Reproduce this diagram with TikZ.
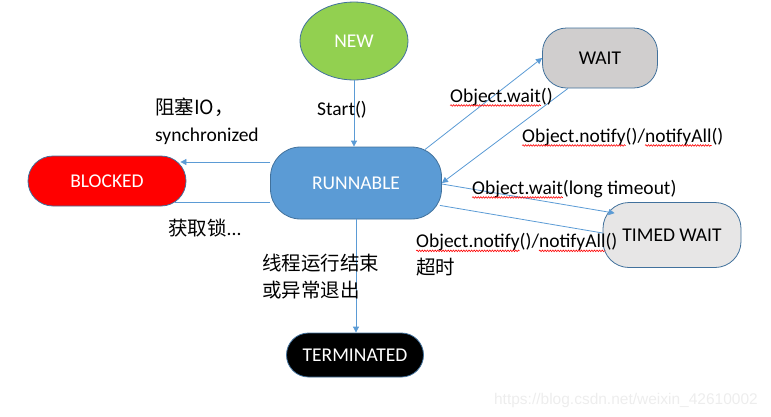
\documentclass[tikz,border=0pt]{standalone}
\usepackage{fontspec}
\setmainfont{Carlito}
\newfontfamily\cjk{Noto Sans CJK SC}
\newfontfamily\wmfont{Liberation Sans}
\usetikzlibrary{calc,arrows.meta,decorations.pathmorphing,shapes.geometric}
\definecolor{newgreen}{HTML}{92D050}
\definecolor{runblue}{HTML}{5B9BD5}
\definecolor{edgeblue}{HTML}{41719C}
\definecolor{waitgray}{HTML}{D0CECE}
\definecolor{twgray}{HTML}{E7E6E6}
\definecolor{arrowblue}{HTML}{5B9BD5}
\tikzset{
  state/.style={draw=edgeblue, line width=0.8pt, inner sep=0pt, font=\fontsize{19.5}{24}\selectfont},
  conn/.style={draw=arrowblue, line width=0.8pt},
  arr/.style={conn, -{Triangle[length=6pt,width=6pt]}},
  lbl/.style={inner sep=0pt, font=\fontsize{19.5}{27}\selectfont, align=left},
  spell/.style={draw=red, line width=0.6pt, decorate, decoration={snake, amplitude=0.8pt, segment length=2.6pt}}
}
\newsavebox\splbox
\newcommand\spl[1]{\sbox\splbox{#1}\usebox\splbox\tikz[overlay,baseline=0pt]\draw[spell](-\wd\splbox,-3pt)--(0pt,-3pt);}
\begin{document}
\begin{tikzpicture}[x=1pt,y=-1pt]
\useasboundingbox (0,0) rectangle (771,416);
% states
\node[state, ellipse, fill=newgreen, minimum width=108pt, minimum height=78pt, text=white] (new) at (354,41) {NEW};
\node[state, rectangle, rounded corners=30pt, fill=runblue, minimum width=171pt, minimum height=72pt, text=white] (run) at (356,183) {RUNNABLE};
\node[state, rectangle, rounded corners=25pt, fill=red, minimum width=158pt, minimum height=50pt, text=white] (blk) at (107,181) {BLOCKED};
\node[state, rectangle, rounded corners=24pt, fill=waitgray, minimum width=115pt, minimum height=60pt, text=black] (wait) at (600,58) {WAIT};
\node[state, rectangle, rounded corners=26pt, fill=twgray, minimum width=138pt, minimum height=65pt, text=black] (tw) at (672,235) {TIMED WAIT};
\node[state, rectangle, rounded corners=22pt, fill=black, minimum width=137pt, minimum height=44pt, text=white] (term) at (355,355) {TERMINATED};
% connectors
\draw[arr] (new.south) -- (new.south |- run.north);
\draw[arr] ($(run.north east)+(-17,3)$) -- (wait.west);
\draw[arr] ($(wait.south)+(-32,0)$) -- (run.east);
\draw[arr] ($(run.east)+(0,1)$) -- ($(tw.north west)+(12,11)$);
\draw[conn] ($(tw.west)+(0,-2)$) -- ($(run.south east)+(-2,-14)$);
\draw[arr] ($(run.west)+(0,-21)$) -- ($(blk.east)+(-6,-19)$);
\draw[conn] ($(blk.east)+(-11,21)$) -- ($(run.west)+(0,19)$);
\draw[arr] (run.south) -- (run.south |- term.north);
% labels
\node[lbl] (lstart) at (342,110) {Start()};
\node[lbl, anchor=west] (lblk) at (155,121) {{\cjk 阻塞IO，}\\synchronized};
\node[lbl, anchor=west] (lget) at (168,228) {{\cjk 获取锁}...};
\node[lbl, anchor=west] (lterm) at (262,277) {\cjk 线程运行结束\\\cjk 或异常退出};
\node[lbl, anchor=west] (lw1) at (450,97) {\spl{Object.wait}()};
\node[lbl, anchor=west] (ln1) at (522,137) {\spl{Object.notify}()/\spl{notifyAll}()};
\node[lbl, anchor=west] (lw2) at (472,189) {\spl{Object.wait}(long timeout)};
\node[lbl, anchor=west] (ln2) at (416,255) {\spl{Object.notify}()/\spl{notifyAll}()\\{\cjk 超时}};
% watermark
\node[inner sep=0pt, anchor=east, text=black!7, font=\wmfont\fontsize{15.5}{18}\selectfont] (wm) at (758,400) {https://blog.csdn.net/weixin\_42610002};
\end{tikzpicture}
\end{document}
